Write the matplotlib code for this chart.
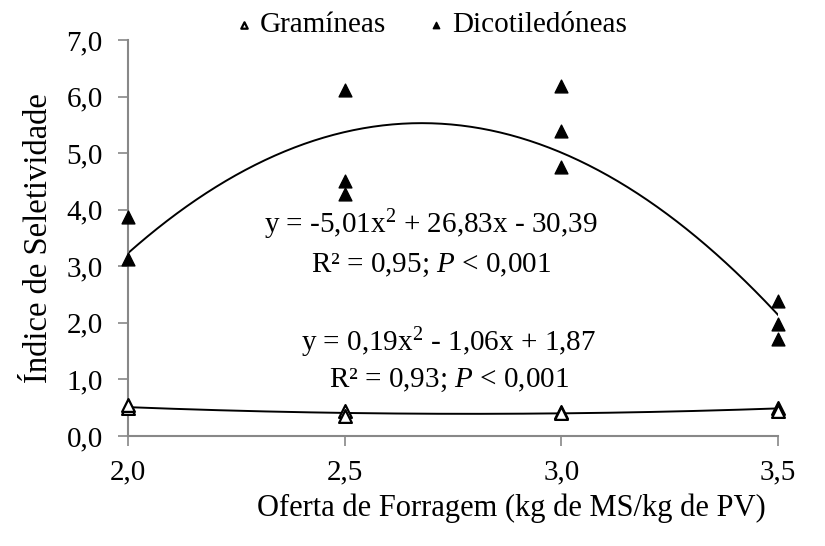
import numpy as np
import matplotlib.pyplot as plt

# dados
oferta_gram = [2.0, 2.0, 2.5, 2.5, 3.0, 3.0, 3.5, 3.5]
indice_gram = [0.50, 0.55, 0.45, 0.35, 0.42, 0.40, 0.50, 0.45]

oferta_dico = [2.0, 2.0, 2.5, 2.5, 2.5, 3.0, 3.0, 3.0, 3.5, 3.5, 3.5]
indice_dico = [3.88, 3.12, 6.12, 4.50, 4.27, 6.18, 5.40, 4.75, 2.38, 1.98, 1.72]

# coeficientes das equações mostradas no gráfico
coef_gram = [0.19, -1.06, 1.87]
coef_dico = [-5.01, 26.83, -30.39]

xticks = [2.0, 2.5, 3.0, 3.5]
yticks = [0, 1, 2, 3, 4, 5, 6, 7]

plt.rcParams['font.family'] = ['Liberation Serif', 'DejaVu Serif']
plt.rcParams['mathtext.fontset'] = 'custom'
plt.rcParams['mathtext.it'] = 'Liberation Serif:italic'
plt.rcParams['mathtext.rm'] = 'Liberation Serif'

FS = 21

fig = plt.figure(figsize=(8.25, 5.46), dpi=100)
ax = fig.add_axes([0.155, 0.2015, 0.788, 0.7252])

xs = np.linspace(2.0, 3.5, 200)
ax.plot(xs, np.polyval(coef_dico, xs), color='black', lw=1.4, zorder=2)
ax.plot(xs, np.polyval(coef_gram, xs), color='black', lw=1.4, zorder=2)

ax.scatter(oferta_gram, indice_gram, marker='^', s=85, facecolor='white',
           edgecolor='black', linewidth=1.6, zorder=3, label='Gramíneas', clip_on=False)
ax.scatter(oferta_dico, indice_dico, marker='^', s=85, facecolor='black',
           edgecolor='black', zorder=3, label='Dicotiledóneas', clip_on=False)

ax.set_xlim(2.0, 3.5)
ax.set_ylim(0, 7)
ax.set_xticks(xticks)
ax.set_yticks(yticks)
ax.set_xticklabels([f'{v:.1f}'.replace('.', ',') for v in xticks])
ax.set_yticklabels([f'{v:.1f}'.replace('.', ',') for v in yticks])
ax.tick_params(labelsize=FS, color='#888888', length=7, width=1.2)
ax.tick_params(axis='x', pad=10)
ax.tick_params(axis='y', pad=11)

for s in ['top', 'right']:
    ax.spines[s].set_visible(False)
for s in ['left', 'bottom']:
    ax.spines[s].set_color('#888888')
    ax.spines[s].set_linewidth(1.5)

ax.set_xlabel('Oferta de Forragem (kg de MS/kg de PV)', fontsize=22, labelpad=6, x=0.59)
ax.set_ylabel('Índice de Seletividade', fontsize=23.5, labelpad=9)

ax.text(2.70, 3.73, 'y = -5,01x$^{2}$ + 26,83x - 30,39', fontsize=FS, ha='center', va='center')
ax.text(2.70, 3.02, 'R² = 0,95; $P$ < 0,001', fontsize=FS, ha='center', va='center')
ax.text(2.74, 1.64, 'y = 0,19x$^{2}$ - 1,06x + 1,87', fontsize=FS, ha='center', va='center')
ax.text(2.74, 0.99, 'R² = 0,93; $P$ < 0,001', fontsize=FS, ha='center', va='center')

leg = ax.legend(loc='lower center', bbox_to_anchor=(0.462, 0.975), ncol=2, frameon=False,
                fontsize=FS, markerscale=0.5, handletextpad=0.05, handlelength=1.0,
                columnspacing=1.2, borderaxespad=0)

fig.savefig('out.png', dpi=100)
